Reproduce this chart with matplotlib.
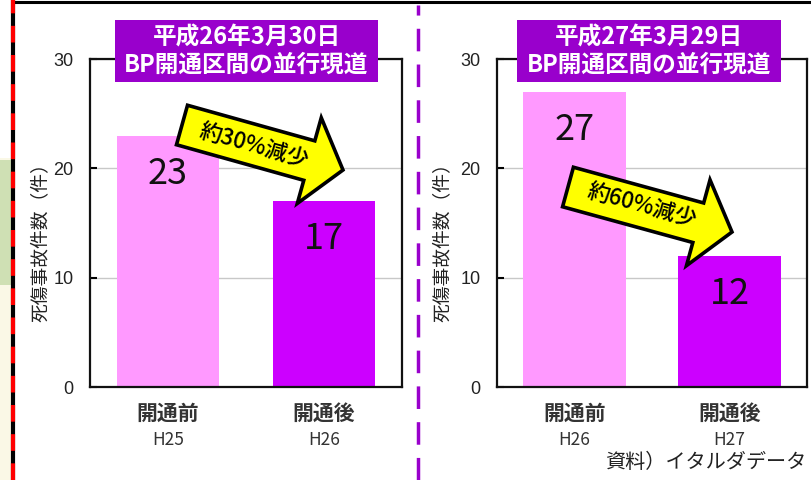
import numpy as np
import matplotlib
matplotlib.use("Agg")
import matplotlib.pyplot as plt
import matplotlib.patches as mpatches
from matplotlib.lines import Line2D

plt.rcParams["font.family"] = ["Noto Sans CJK JP", "DejaVu Sans"]

W, H = 811, 480

# data
periods = ["開通前", "開通後"]
years_left = ["H25", "H26"]
years_right = ["H26", "H27"]
values_left = [23, 17]
values_right = [27, 12]
titles = ["平成26年3月30日\nBP開通区間の並行現道", "平成27年3月29日\nBP開通区間の並行現道"]
arrow_texts = ["約30%減少", "約60%減少"]
ylabel = "死傷事故件数（件）"
source = "資料）イタルダデータ"
yticks = [0, 10, 20, 30]

bar_colors = ["#FF99FF", "#CC00FF"]
box_color = "#9900CC"


def px(x, y):
    # pixel (top-left origin) -> figure fraction
    return x / W, 1 - y / H


def block_arrow(tail, tip, shaft_w, head_w, head_len):
    t = np.array(tail, float)
    p = np.array(tip, float)
    u = (p - t) / np.linalg.norm(p - t)
    n = np.array([-u[1], u[0]])
    b = p - u * head_len
    pts = [t + n * shaft_w / 2, b + n * shaft_w / 2, b + n * head_w / 2, p,
           b - n * head_w / 2, b - n * shaft_w / 2, t - n * shaft_w / 2]
    return [px(*q) for q in pts]


fig = plt.figure(figsize=(W / 100, H / 100), dpi=100)
fig.patch.set_facecolor("white")

# background strip on the far left (map fragment)
fig.add_artist(mpatches.Rectangle(px(0, 480), 13 / W, 322 / H, transform=fig.transFigure,
                                  facecolor="#FAF8E6", edgecolor="none", zorder=0))
fig.add_artist(mpatches.Rectangle(px(0, 285), 13 / W, 125 / H, transform=fig.transFigure,
                                  facecolor="#CFE0B4", edgecolor="none", zorder=0))

# frame lines
fig.add_artist(Line2D([13 / W, 1], [1 - 1.5 / H, 1 - 1.5 / H], transform=fig.transFigure,
                      color="black", lw=2.2))
fig.add_artist(Line2D([13 / W, 13 / W], [0, 1], transform=fig.transFigure,
                      color="black", lw=3))
fig.add_artist(Line2D([13 / W, 13 / W], [0, 1], transform=fig.transFigure,
                      color="#FF0000", lw=3, dashes=(4, 3)))
fig.add_artist(Line2D([418 / W, 418 / W], [0, 1 - 5 / H], transform=fig.transFigure,
                      color=box_color, lw=2.5, dashes=(6.5, 3.8)))

panels = [
    dict(x0=90, x1=402, vals=values_left, years=years_left, title=titles[0],
         box=(115, 378), arrow=((182, 125), (343, 170)), atext=arrow_texts[0],
         tpos=(254, 146), ylab_x=40),
    dict(x0=497, x1=807, vals=values_right, years=years_right, title=titles[1],
         box=(517, 781), arrow=((568, 187), (732, 232)), atext=arrow_texts[1],
         tpos=(642, 206), ylab_x=442),
]

y_top, y_bot = 59, 387
ax_h = y_bot - y_top

for pnl in panels:
    left, bottom = px(pnl["x0"], y_bot)
    ax_w = pnl["x1"] - pnl["x0"]
    ax = fig.add_axes([left, bottom, ax_w / W, ax_h / H])
    x = np.arange(len(periods))
    ax.bar(x, pnl["vals"], width=0.66, color=bar_colors, zorder=2)
    for xi, v in zip(x, pnl["vals"]):
        ax.text(xi, v - 3.5, str(v), ha="center", va="center", fontsize=26,
                color="#111111", zorder=3)
    ax.set_xlim(-0.5, 1.5)
    ax.set_ylim(0, 30)
    ax.set_yticks(yticks)
    ax.set_yticklabels([str(t) for t in yticks], family="Liberation Sans", fontsize=13,
                       color="#222222")
    ax.set_xticks(x)
    ax.set_xticklabels([])
    tr = ax.get_xaxis_transform()
    for xi, p, yr in zip(x, periods, pnl["years"]):
        ax.text(xi, -26 / ax_h, p, transform=tr, ha="center", va="center",
                fontsize=15, fontweight="bold", color="#333333")
        ax.text(xi, -53 / ax_h, yr, transform=tr, ha="center", va="center",
                fontsize=12.5, color="#333333")
    ax.tick_params(axis="y", direction="in", length=5, width=1.5, pad=12)
    ax.tick_params(axis="x", length=0)
    ax.grid(axis="y", color="#C8C8C8", lw=1, zorder=1)
    for s in ax.spines.values():
        s.set_linewidth(1.6)
        s.set_color("#111111")
    ax.set_ylabel(ylabel, fontsize=13.5, color="#222222", va="center")
    ax.yaxis.set_label_coords((pnl["ylab_x"] - pnl["x0"]) / ax_w, 0.455)

    # title box
    bx0, bx1 = pnl["box"]
    fig.add_artist(mpatches.Rectangle(px(bx0, 82), (bx1 - bx0) / W, 62 / H,
                                      transform=fig.transFigure, facecolor=box_color,
                                      edgecolor="none", zorder=5))
    fig.text(*px((bx0 + bx1) / 2, 51), pnl["title"], ha="center", va="center",
             fontsize=17, fontweight="bold", color="white", linespacing=1.15, zorder=6)

    # arrow
    tail, tip = pnl["arrow"]
    fig.add_artist(mpatches.Polygon(block_arrow(tail, tip, 41, 89, 35), closed=True,
                                    transform=fig.transFigure, facecolor="#FFFF00",
                                    edgecolor="black", lw=2.6, joinstyle="miter", zorder=7))
    ang = -np.degrees(np.arctan2(tip[1] - tail[1], tip[0] - tail[0]))
    fig.text(*px(*pnl["tpos"]), pnl["atext"], ha="center", va="center", rotation=ang,
             rotation_mode="anchor", fontsize=16, fontweight="medium", color="black",
             zorder=8)

fig.text(*px(806, 462), source, ha="right", va="center", fontsize=14.5, color="#222222")

fig.savefig("out.png", dpi=100)
